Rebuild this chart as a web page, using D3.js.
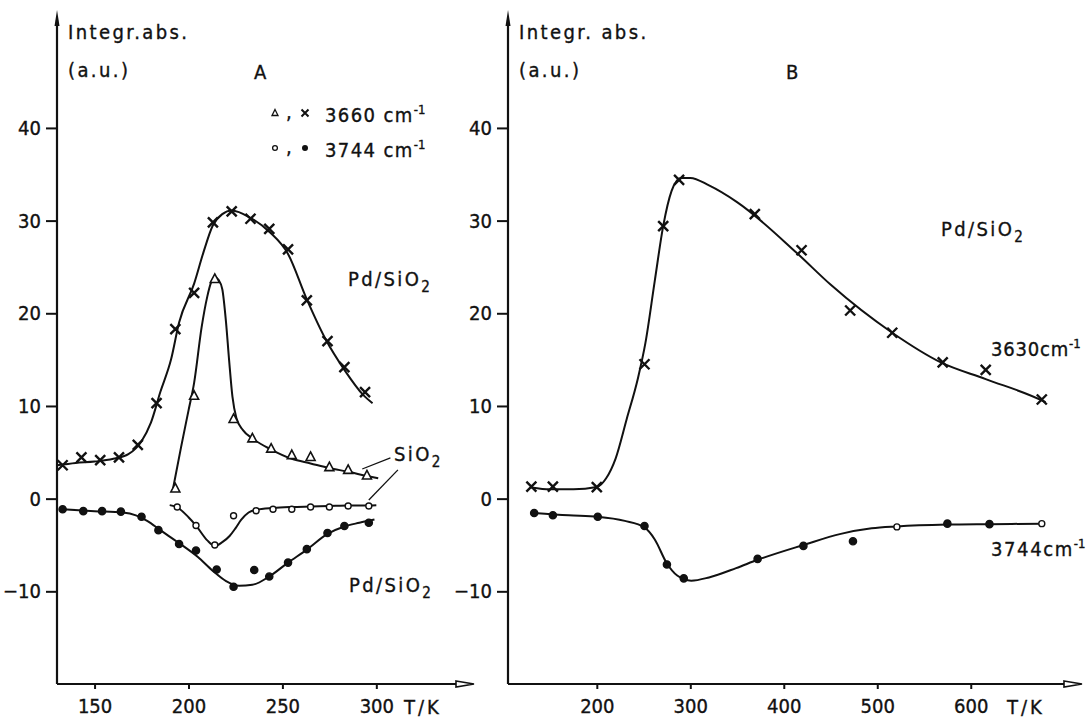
<!DOCTYPE html>
<html>
<head>
<meta charset="utf-8">
<script src="https://cdn.jsdelivr.net/npm/d3@7"></script>
<style>
  body { margin: 0; background: #fff; }
  svg text { font-family: "DejaVu Sans Condensed", "Liberation Sans Narrow", "DejaVu Sans", sans-serif; fill: #111; stroke: #111; stroke-width: 0.35px; }
  .lbl { font-size: 20px; letter-spacing: 1.6px; }
  .tick text { font-size: 20px; }
</style>
</head>
<body>
<div id="chart"></div>
<script>
const WIDTH = 1091;
const HEIGHT = 721;

// ---- panel A data (T in K, integrated absorbance in a.u.) ----
// 3660 cm-1 on Pd/SiO2 (crosses) and on SiO2 (triangles)
const crossA = [[133,3.6],[143,4.45],[153,4.15],[163,4.45],[173,5.8],[183,10.3],[193,18.3],[203,22.2],[213,29.8],[223,31.0],[233,30.2],[243,29.1],[253,26.9],[263,21.4],[274,17.0],[283,14.2],[294,11.5]];
const crossA_fit = [[130,3.6],[140,3.85],[150,4.0],[160,4.3],[168,4.8],[175,6.2],[180,8.2],[185,11.5],[190.7,15],[195,19],[203,23.2],[208,26.6],[213,29.5],[218,30.7],[223,31.1],[233,30.3],[243,28.8],[253,26.4],[263,21.5],[273,17.2],[283,13.9],[293,11.2],[298,10.3]];
const triA = [[193,1.1],[203,11.1],[214,23.7],[224,8.6],[234,6.5],[244,5.4],[255,4.7],[265,4.5],[275,3.4],[285,3.1],[295,2.5]];
const triA_fit = [[191.5,0.8],[196,5.5],[200,9.5],[203,12.5],[207,18.5],[210,21.8],[212,23.3],[214,23.9],[216,23.6],[218,22.6],[220,19],[221.6,15],[223.4,11],[225.5,8.7],[229,7.4],[234,6.5],[244,5.3],[255,4.3],[265,3.8],[275,3.3],[285,2.9],[295,2.45],[301,2.2]];
// 3744 cm-1 on SiO2 (open circles) and on Pd/SiO2 (dots)
const circA = [[194,-0.9],[204,-2.9],[214,-5.0],[224,-1.85],[236,-1.3],[245,-1.15],[255,-1.15],[265,-0.9],[275,-0.9],[285,-0.8],[296,-0.8]];
const circA_fit = [[190,-0.7],[194,-0.95],[200,-2.0],[204,-2.9],[210,-4.5],[214,-5.1],[218,-4.7],[222,-4.0],[225,-3.2],[228,-2.3],[232,-1.5],[236,-1.2],[245,-1.0],[255,-0.9],[265,-0.85],[275,-0.8],[285,-0.75],[296,-0.75],[300,-0.72]];
const dotA = [[133,-1.15],[144,-1.35],[154,-1.35],[164,-1.4],[175,-1.95],[184,-3.4],[195,-4.9],[204,-5.6],[215,-7.65],[224,-9.5],[235,-7.7],[243,-8.4],[253,-6.9],[263,-5.45],[274,-3.7],[283,-2.95],[296,-2.6]];
const dotA_fit = [[133,-1.15],[150,-1.35],[165,-1.5],[172,-1.8],[178,-2.4],[185,-3.4],[195,-4.8],[205,-6.3],[213,-7.8],[220,-8.9],[227,-9.4],[234,-9.3],[243,-8.4],[253,-6.9],[263,-5.5],[274,-3.8],[283,-3.0],[291,-2.6],[299,-2.25]];

// ---- panel B data ----
const crossB = [[130,1.3],[153,1.3],[200,1.25],[251,14.5],[271,29.4],[288,34.4],[369,30.7],[419,26.8],[471,20.3],[516,17.9],[570,14.7],[616,13.9],[676,10.7]];
const crossB_fit = [[130,1.2],[150,1.0],[175,1.0],[200,1.25],[210,2.2],[220,4.3],[232,8.6],[244,13.0],[252,16.8],[262,23.5],[271,29.4],[280,33.2],[290,34.6],[300,34.6],[320,33.8],[350,32.0],[414,26.5],[450,23.1],[516,17.9],[568,14.7],[616,12.9],[676,10.6],[680,10.4]];
const dotB = [[133,-1.55],[153,-1.8],[201,-1.95],[251,-2.95],[275,-7.1],[293,-8.6],[372,-6.5],[421,-5.1],[474,-4.6],[521,-3.05],[575,-2.7],[620,-2.75],[676,-2.7]];
const dotB_open = [false,false,false,false,false,false,false,false,false,true,false,false,true];
const dotB_fit = [[133,-1.55],[170,-1.8],[201,-1.95],[230,-2.4],[251,-3.1],[262,-4.4],[275,-7.0],[286,-8.3],[301,-8.85],[320,-8.5],[349,-7.5],[372,-6.6],[421,-5.0],[461,-3.8],[494,-3.2],[521,-3.0],[575,-2.8],[620,-2.75],[676,-2.7]];

const yTicks = [-10, 0, 10, 20, 30, 40];
const xTicksA = [150, 200, 250, 300];
const xTicksB = [200, 300, 400, 500, 600];

// ---- scales ----
const y = d3.scaleLinear().domain([-20, 52.4]).range([684, 13]);
const xA = d3.scaleLinear().domain([130, 352]).range([57, 474]);
const xB = d3.scaleLinear().domain([105, 719]).range([508, 1082]);

const svg = d3.select("#chart").append("svg")
  .attr("width", WIDTH).attr("height", HEIGHT);

function drawAxes(x, ticks, tkLabelX, title) {
  const x0 = x.range()[0], x1 = x.range()[1];
  const g = svg.append("g");
  // y axis with arrow
  g.append("line").attr("x1", x0).attr("x2", x0).attr("y1", 684).attr("y2", 20)
    .attr("stroke", "#111").attr("stroke-width", 2.2);
  g.append("path").attr("d", `M${x0-2.5},26L${x0},10L${x0+2.5},26Z`).attr("fill", "#111");
  // x axis with arrow
  g.append("line").attr("x1", x0).attr("x2", x1 - 14).attr("y1", 684).attr("y2", 684)
    .attr("stroke", "#111").attr("stroke-width", 2.2);
  g.append("path").attr("d", `M${x1-18},681L${x1},684L${x1-18},687Z`)
    .attr("fill", "#fff").attr("stroke", "#111").attr("stroke-width", 1.6);

  const ya = g.append("g").attr("transform", `translate(${x0},0)`)
    .call(d3.axisLeft(y).tickValues(yTicks).tickSize(11).tickPadding(5).tickFormat(d => d < 0 ? "\u2212" + (-d) : d));
  ya.select(".domain").remove();
  ya.selectAll(".tick line").attr("stroke", "#111").attr("stroke-width", 2);

  const xa = g.append("g").attr("transform", "translate(0,684)")
    .call(d3.axisBottom(x).tickValues(ticks).tickSize(5).tickPadding(7));
  xa.select(".domain").remove();
  xa.selectAll(".tick line").attr("stroke", "#111").attr("stroke-width", 2);
  xa.selectAll(".tick text").attr("dy", "0.85em");

  g.append("text").attr("class", "lbl").attr("x", tkLabelX).attr("y", 714)
    .style("letter-spacing", "3px").text("T/K");
  g.append("text").attr("class", "lbl").attr("x", x0 + 11).attr("y", 39)
    .style("letter-spacing", "2.4px").text(title);
  g.append("text").attr("class", "lbl").attr("x", x0 + 11).attr("y", 77)
    .style("letter-spacing", "2.4px").text("(a.u.)");
}

drawAxes(xA, xTicksA, 404, "Integr.abs.");
drawAxes(xB, xTicksB, 1007, "Integr. abs.");

const lineA = d3.line().x(d => xA(d[0])).y(d => y(d[1])).curve(d3.curveMonotoneX);
const lineB = d3.line().x(d => xB(d[0])).y(d => y(d[1])).curve(d3.curveMonotoneX);

function curve(gen, data) {
  svg.append("path").attr("d", gen(data)).attr("fill", "none")
    .attr("stroke", "#111").attr("stroke-width", 2);
}
curve(lineA, crossA_fit);
curve(lineA, triA_fit);
curve(lineA, circA_fit);
curve(lineA, dotA_fit);
curve(lineB, crossB_fit);
curve(lineB, dotB_fit);

// ---- markers ----
function crosses(x, data) {
  svg.append("g").selectAll("path").data(data).join("path")
    .attr("transform", d => `translate(${x(d[0])},${y(d[1])})`)
    .attr("d", "M-5,-5L5,5M-5,5L5,-5")
    .attr("stroke", "#111").attr("stroke-width", 2.4);
}
function triangles(x, data) {
  svg.append("g").selectAll("path").data(data).join("path")
    .attr("transform", d => `translate(${x(d[0])},${y(d[1])})`)
    .attr("d", "M0,-5L4.5,3.5L-4.5,3.5Z")
    .attr("fill", "#fff").attr("stroke", "#111").attr("stroke-width", 1.6);
}
function circles(x, data, open) {
  svg.append("g").selectAll("circle").data(data).join("circle")
    .attr("cx", d => x(d[0])).attr("cy", d => y(d[1]))
    .attr("r", (d, i) => open(i) ? 3 : 3.6)
    .attr("fill", (d, i) => open(i) ? "#fff" : "#111")
    .attr("stroke", "#111").attr("stroke-width", 1.4);
}
crosses(xA, crossA);
triangles(xA, triA);
circles(xA, circA, () => true);
circles(xA, dotA, () => false);
crosses(xB, crossB);
circles(xB, dotB, i => dotB_open[i]);

// ---- labels ----
function label(x, yy, parts, spacing) {
  const t = svg.append("text").attr("class", "lbl").attr("x", x).attr("y", yy);
  if (spacing) t.style("letter-spacing", spacing);
  parts.forEach(p => {
    const s = t.append("tspan").text(p.t);
    if (p.sub) s.attr("dy", 6).attr("font-size", 15);
    if (p.sup) s.attr("dy", -8).attr("font-size", 13).style("letter-spacing", "0px");
  });
  return t;
}
const PdSiO2 = [{t: "Pd/SiO"}, {t: "2", sub: true}];
svg.append("text").attr("class", "lbl").attr("x", 261).attr("y", 79).attr("text-anchor", "middle").text("A");
svg.append("text").attr("class", "lbl").attr("x", 793).attr("y", 79).attr("text-anchor", "middle").text("B");

// legend A
svg.append("path").attr("transform", "translate(275,113)").attr("d", "M0,-3.5L3,2.5L-3,2.5Z")
  .attr("fill", "#fff").attr("stroke", "#111").attr("stroke-width", 1.3);
svg.append("path").attr("transform", "translate(305,113)").attr("d", "M-3.5,-3.5L3.5,3.5M-3.5,3.5L3.5,-3.5")
  .attr("stroke", "#111").attr("stroke-width", 2);
svg.append("circle").attr("cx", 275).attr("cy", 148).attr("r", 2.4).attr("fill", "#fff").attr("stroke", "#111").attr("stroke-width", 1.3);
svg.append("circle").attr("cx", 305).attr("cy", 148).attr("r", 3).attr("fill", "#111");
svg.append("text").attr("class", "lbl").attr("x", 286).attr("y", 119).text(",");
svg.append("text").attr("class", "lbl").attr("x", 286).attr("y", 154).text(",");
label(325, 122, [{t: "3660 cm"}, {t: "-1", sup: true}], "1.4px");
label(325, 157, [{t: "3744 cm"}, {t: "-1", sup: true}], "1.4px");

label(348, 286, PdSiO2, "2.4px");
label(394, 461, [{t: "SiO"}, {t: "2", sub: true}], "2.4px");
label(349, 592, PdSiO2, "2.4px");
label(941, 236, PdSiO2, "2.4px");
label(991, 356, [{t: "3630cm"}, {t: "-1", sup: true}], "0.8px");
label(991, 556, [{t: "3744cm"}, {t: "-1", sup: true}], "1.6px");

// leader lines from SiO2 label to its two curves
const leaders = [[[292.5, 3.2], [307.5, 4.4]], [[296, -0.15], [311.5, 3.1]]];
svg.append("g").selectAll("line").data(leaders).join("line")
  .attr("x1", d => xA(d[0][0])).attr("y1", d => y(d[0][1]))
  .attr("x2", d => xA(d[1][0])).attr("y2", d => y(d[1][1]))
  .attr("stroke", "#111").attr("stroke-width", 1.3);
</script>
</body>
</html>
